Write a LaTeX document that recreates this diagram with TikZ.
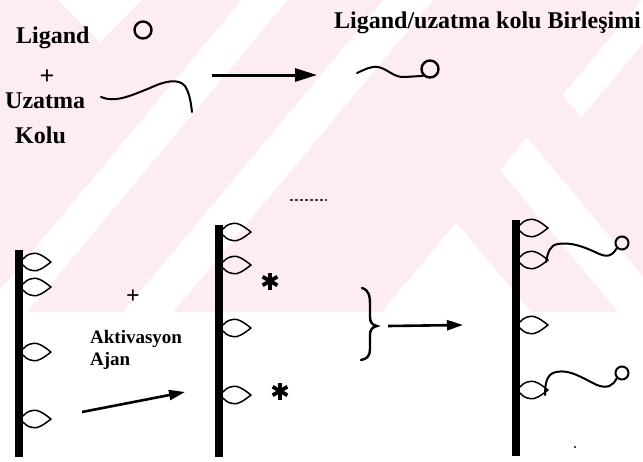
\documentclass[tikz,border=0pt]{standalone}
\usepackage{fontspec}
\setmainfont{Liberation Serif}
\usetikzlibrary{arrows.meta}
\definecolor{wmpink}{RGB}{253,236,240}
\begin{document}
\begin{tikzpicture}[x=1pt,y=-1pt,
  txt/.style={inner sep=0pt, anchor=base west, font=\fontsize{24}{28}\selectfont\bfseries},
  smalltxt/.style={inner sep=0pt, anchor=base west, font=\fontsize{19}{22}\selectfont\bfseries},
  plussign/.style={inner sep=0pt, font=\fontsize{26}{26}\selectfont\bfseries},
  ink/.style={line width=2pt, line cap=round, line join=round},
  bar/.style={line width=7.5pt},
  looppen/.style={line width=1.5pt, line join=round},
  bigarrow/.style={line width=3pt, -{Triangle[length=22pt,width=13pt]}},
  midarrow/.style={line width=2.6pt, -{Triangle[length=16pt,width=10pt]}},
  ring/.style={draw, circle, inner sep=0pt, line width=2.4pt},
  sugar/.pic={\draw[looppen] (0,-3) .. controls (4,-8) and (9,-9) .. (14,-8.5)
      .. controls (20,-7) and (25,-2) .. (28,0)
      .. controls (25,2) and (20,7) .. (14,8.5)
      .. controls (9,9) and (4,8) .. (0,3);},
  astmark/.pic={\foreach \a in {90,30,-30}{\draw[line width=3.8pt] (\a:8.5) -- (\a:-8.5);}}
]
\useasboundingbox (0,0) rectangle (643,461);
\fill[white] (0,0) rectangle (643,461);

% background stripes
\begin{scope}
  \clip (0,0) rectangle (643,312);
  \fill[wmpink] (0,0) rectangle (643,312);
  \fill[white] (58,0) -- (142,0) -- (100,42) -- cycle;
  \fill[white] (241.7,0) -- (287.5,0) -- (27.5,312) -- (-18.3,312) -- cycle;
  \fill[white] (383.3,0) -- (433.3,0) -- (173.3,312) -- (123.3,312) -- cycle;
  \begin{scope}
    \clip (641.7,0) -- (700,0) -- (700,312) -- (381.7,312) -- cycle;
    \fill[white] (300,-135) -- (700,345) -- (700,410) -- (300,-70) -- cycle;
    \fill[white] (300,35) -- (700,515) -- (300,515) -- cycle;
    \fill[white] (500,20) -- (581.25,117.5) -- (700,-25) -- (500,-25) -- cycle;
  \end{scope}
\end{scope}

% ligand and extension arm
\node[txt] (ligandlbl) at (16,43) {Ligand};
\node[ring, minimum size=17pt] (lig) at (143,30) {};
\node[plussign] (plusa) at (47,77) {+};
\node[txt] (uzatma) at (5,108) {Uzatma};
\node[txt] (kolu) at (15,143) {Kolu};
\draw[ink] (101,97) .. controls (115,103) and (130,96) .. (150,88)
  .. controls (165,81) and (178,78) .. (185,86)
  .. controls (190,94) and (191,104) .. (192,112);

\coordinate (a1s) at (212,75);
\coordinate (a1e) at (317,75);
\draw[bigarrow] (a1s) -- (a1e);

% conjugate
\node[txt] (conjlbl) at (334,28) {Ligand/uzatma kolu Birleşimi};
\node[ring, minimum size=17pt] (conjend) at (430,69) {};
\draw[ink] (357,73) .. controls (364,70) and (370,66) .. (378,67)
  .. controls (388,69) and (394,78) .. (405,77) -- (conjend.225);

\coordinate (d1) at (290,200);
\coordinate (d2) at (327,200);
\draw[line width=1.2pt, dash pattern=on 3pt off 2pt, black!75] (d1) -- (d2);

% supports
\coordinate (c1t) at (19,250);  \coordinate (c1b) at (19,457);
\coordinate (c2t) at (219,225); \coordinate (c2b) at (219,457);
\coordinate (c3t) at (516,220); \coordinate (c3b) at (516,456);
\draw[bar] (c1t) -- (c1b);
\draw[bar] (c2t) -- (c2b);
\draw[bar] (c3t) -- (c3b);

\foreach \yy in {262,287,352,419} {\pic at (23,\yy) {sugar};}
\foreach \yy in {232,265,328,395} {\pic at (223,\yy) {sugar};}
\foreach \yy in {228,260,325,390} {\pic at (520,\yy) {sugar};}

% activation step
\node[plussign, font=\fontsize{24}{24}\selectfont\bfseries] (plusb) at (133,297) {+};
\node[smalltxt] (aktiv) at (90,343) {Aktivasyon};
\node[smalltxt] (ajan) at (90,365) {Ajan};
\coordinate (a2s) at (82,412);
\coordinate (a2e) at (185,392);
\draw[midarrow] (a2s) -- (a2e);

\pic at (270,281) {astmark};
\pic at (280,391) {astmark};

% brace and coupling arrow
\draw[line width=2.4pt, line cap=round] (362,288) .. controls (369,290) and (370,296) .. (370,305)
  -- (370,317) .. controls (370,322) and (372,325) .. (377,326)
  .. controls (372,327) and (370,330) .. (370,335)
  -- (370,349) .. controls (370,356) and (367,359) .. (361,360);
\coordinate (a3s) at (388,326);
\coordinate (a3e) at (463,325);
\draw[midarrow] (a3s) -- (a3e);

% immobilised ligands
\node[ring, minimum size=13pt, line width=2pt] (end1) at (622,243) {};
\node[ring, minimum size=13pt, line width=2pt] (end2) at (622,373) {};
\draw[ink] (546,262) .. controls (548,252) and (550,245) .. (558,244)
  .. controls (570,242) and (582,246) .. (595,252)
  .. controls (605,257) and (611,258) .. (end1.225);
\draw[ink] (545,395) .. controls (545,385) and (546,374) .. (556,372)
  .. controls (570,369) and (582,378) .. (597,385)
  .. controls (607,389) and (613,386) .. (end2.225);
\fill (575,447) circle (1.2);
\end{tikzpicture}
\end{document}
